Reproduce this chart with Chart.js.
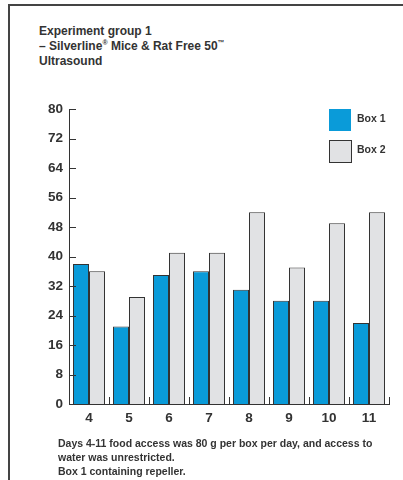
<!DOCTYPE html>
<html>
<head>
<meta charset="utf-8">
<script src="https://cdn.jsdelivr.net/npm/chart.js@4.4.0/dist/chart.umd.min.js"></script>
<style>
  body { margin: 0; background: #fff; font-family: "Liberation Sans", Arial, sans-serif; color: #333; }
  #wrap { position: relative; width: 403px; height: 480px; overflow: hidden; }
  #frame { position: absolute; left: 8px; top: 4px; width: 420px; height: 500px;
           border-left: 2px solid #444; border-top: 2px solid #444; }
  #title { position: absolute; left: 39px; top: 24px; font-size: 12px; font-weight: bold; line-height: 15px; }
  #title sup { font-size: 7px; line-height: 0; vertical-align: 5px; }
  #note { position: absolute; left: 58px; top: 436px; font-size: 10.5px; font-weight: bold; line-height: 14px; }
  #chartBox { position: absolute; left: 0; top: 0; width: 403px; height: 480px; }
</style>
</head>
<body>
<div id="wrap">
  <div id="frame"></div>
  <div id="title">Experiment group 1<br>– Silverline<sup>®</sup> Mice &amp; Rat Free 50<sup>™</sup><br>Ultrasound</div>
  <div id="chartBox"><canvas id="barChart"></canvas></div>
  <div id="note">Days 4-11 food access was 80 g per box per day, and access to<br>water was unrestricted.<br>Box 1 containing repeller.</div>
</div>
<script>
var days = ['4', '5', '6', '7', '8', '9', '10', '11'];
var box1 = [38, 21, 35, 36, 31, 28, 28, 22];
var box2 = [36, 29, 41, 41, 52, 37, 49, 52];
var seriesNames = ['Box 1', 'Box 2'];
var yMax = 80;
var yStep = 8;

var axisColor = '#333';
var tickFont = { family: '"Liberation Sans", Arial, sans-serif', size: 13.5, weight: 'bold' };

// inward tick marks + legend drawn on the canvas
var extras = {
  id: 'extras',
  afterDatasetsDraw: function (chart) {
    var ctx = chart.ctx;
    var area = chart.chartArea;
    var xs = chart.scales.x, ys = chart.scales.y;
    ctx.save();
    ctx.strokeStyle = axisColor;
    ctx.lineWidth = 1;
    ys.ticks.forEach(function (t) {
      if (t.value === 0) return;
      var y = Math.round(ys.getPixelForValue(t.value)) + 0.5;
      ctx.beginPath();
      ctx.moveTo(area.left, y);
      ctx.lineTo(area.left + 7, y);
      ctx.stroke();
    });
    for (var i = 1; i <= days.length; i++) {
      var x = Math.round(xs.getPixelForValue(i - 0.5)) + 0.5;
      ctx.beginPath();
      ctx.moveTo(x, area.bottom);
      ctx.lineTo(x, area.bottom - 7);
      ctx.stroke();
    }
    // legend
    chart.data.datasets.forEach(function (ds, k) {
      var lx = area.right - 60, ly = area.top + k * 31;
      ctx.fillStyle = ds.backgroundColor;
      ctx.fillRect(lx, ly, 22, 22);
      if (k === 1) {
        ctx.strokeStyle = axisColor;
        ctx.strokeRect(lx + 0.5, ly + 0.5, 22, 22);
      }
      ctx.fillStyle = '#333';
      ctx.font = 'bold 10.5px "Liberation Sans", Arial, sans-serif';
      ctx.textBaseline = 'middle';
      ctx.fillText(ds.label, lx + 28, ly + 10);
    });
    ctx.restore();
  }
};

var chart = new Chart(document.getElementById('barChart').getContext('2d'), {
  type: 'bar',
  data: {
    labels: days,
    datasets: [
      { label: seriesNames[0], data: box1, backgroundColor: '#0a9bd9', borderColor: axisColor, borderWidth: 1 },
      { label: seriesNames[1], data: box2, backgroundColor: '#e1e2e4', borderColor: axisColor, borderWidth: 1 }
    ]
  },
  options: {
    responsive: true,
    maintainAspectRatio: false,
    animation: false,
    layout: { padding: { left: 19, right: 14, top: 109, bottom: 46 } },
    plugins: { legend: { display: false }, tooltip: { enabled: false } },
    datasets: { bar: { categoryPercentage: 0.8, barPercentage: 1.0 } },
    scales: {
      x: {
        grid: { display: false, drawTicks: false },
        border: { display: true, color: axisColor, width: 1 },
        ticks: { color: '#333', font: tickFont, padding: 6 },
        afterFit: function (s) { s.height = 30; }
      },
      y: {
        min: 0, max: yMax,
        grid: { display: false, drawTicks: false },
        border: { display: true, color: axisColor, width: 1 },
        ticks: { stepSize: yStep, color: '#333', font: tickFont, padding: 6 },
        afterFit: function (s) { s.width = 50; }
      }
    }
  },
  plugins: [extras]
});
</script>
</body>
</html>
